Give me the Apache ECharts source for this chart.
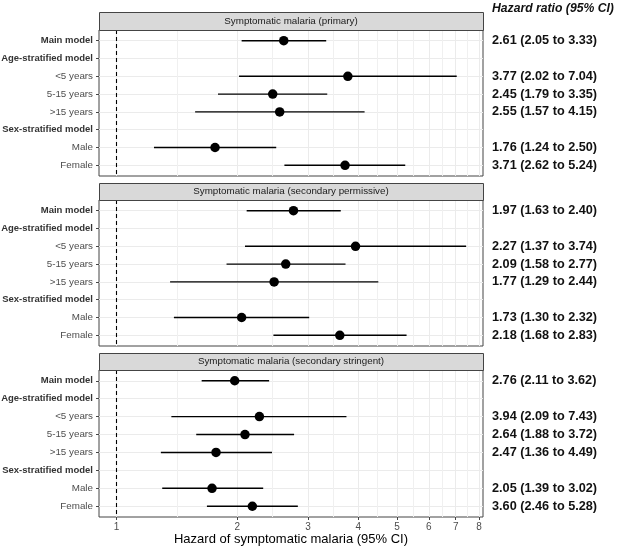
<!DOCTYPE html>
<html><head><meta charset="utf-8">
<script src="https://cdn.jsdelivr.net/npm/echarts@6/dist/echarts.min.js"></script>
<style>html,body{margin:0;padding:0;background:#fff}#c{width:617px;height:546px}</style>
</head><body><div id="c"></div>
<script>
const rowNames = ['Main model','Age-stratified model','<5 years','5-15 years','>15 years','Sex-stratified model','Male','Female'];
const boldRows = ['Main model','Age-stratified model','Sex-stratified model'];
const panelTitles = ['Symptomatic malaria (primary)','Symptomatic malaria (secondary permissive)','Symptomatic malaria (secondary stringent)'];

const p1Est = [2.61, null, 3.77, 2.45, 2.55, null, 1.76, 3.71];
const p1Lo  = [2.05, null, 2.02, 1.79, 1.57, null, 1.24, 2.62];
const p1Hi  = [3.33, null, 7.04, 3.35, 4.15, null, 2.50, 5.24];

const p2Est = [2.76, null, 3.94, 2.64, 2.47, null, 2.05, 3.60];
const p2Lo  = [2.11, null, 2.09, 1.88, 1.36, null, 1.39, 2.46];
const p2Hi  = [3.62, null, 7.43, 3.72, 4.49, null, 3.02, 5.28];

const p3Est = [1.97, null, 2.27, 2.09, 1.77, null, 1.73, 2.18];
const p3Lo  = [1.63, null, 1.37, 1.58, 1.29, null, 1.30, 1.68];
const p3Hi  = [2.40, null, 3.74, 2.77, 2.44, null, 2.32, 2.83];

const p1Labels = ['2.61 (2.05 to 3.33)', '', '3.77 (2.02 to 7.04)', '2.45 (1.79 to 3.35)', '2.55 (1.57 to 4.15)', '', '1.76 (1.24 to 2.50)', '3.71 (2.62 to 5.24)'];
const p2Labels = ['1.97 (1.63 to 2.40)', '', '2.27 (1.37 to 3.74)', '2.09 (1.58 to 2.77)', '1.77 (1.29 to 2.44)', '', '1.73 (1.30 to 2.32)', '2.18 (1.68 to 2.83)'];
const p3Labels = ['2.76 (2.11 to 3.62)', '', '3.94 (2.09 to 7.43)', '2.64 (1.88 to 3.72)', '2.47 (1.36 to 4.49)', '', '2.05 (1.39 to 3.02)', '3.60 (2.46 to 5.28)'];

const xTicks = [1, 2, 3, 4, 5, 6, 7, 8];
const refValue = 1;
const rightHeader = 'Hazard ratio (95% CI)';
const xTitle = 'Hazard of symptomatic malaria (95% CI)';

const panels = [
  {est: p1Est, lo: p1Lo, hi: p1Hi, labels: p1Labels},
  {est: p2Est, lo: p2Lo, hi: p2Hi, labels: p2Labels},
  {est: p3Est, lo: p3Lo, hi: p3Hi, labels: p3Labels}
];

const FONT = 'Liberation Sans, Arial, Helvetica, sans-serif';
const xMin = 0.9046, xMax = 8.185;
const minorTicks = [];
for (let i = 0; i < xTicks.length - 1; i++) minorTicks.push(Math.sqrt(xTicks[i] * xTicks[i + 1]));
const rowVals = rowNames.map((_, i) => i + 1);

const L = 99, W = 384;
const gridTops = [30, 200, 370];
const gridH = [146, 146, 147];
const stripTops = [12, 183, 353];

const grids = [], xAxes = [], yAxes = [], series = [], graphics = [];
panels.forEach((p, i) => {
  grids.push({left: L, top: gridTops[i], width: W, height: gridH[i], show: true, borderColor: '#444', borderWidth: 1, backgroundColor: 'transparent', containLabel: false, outerBoundsMode: 'none'});
  xAxes.push({
    gridIndex: i, type: 'log', logBase: 10, min: xMin, max: xMax, position: 'bottom', z: 1,
    axisLine: {show: false},
    axisTick: {show: i === 2, customValues: xTicks, length: 3, lineStyle: {color: '#444'}},
    axisLabel: {show: i === 2, customValues: xTicks, margin: 5, color: '#4D4D4D', fontSize: 10, fontFamily: FONT, formatter: v => String(Math.round(v))},
    splitLine: {show: true, lineStyle: {color: '#EBEBEB', width: 1}}
  });
  xAxes.push({
    gridIndex: i, type: 'log', logBase: 10, min: xMin, max: xMax, position: 'top', z: 1,
    axisLine: {show: false},
    axisTick: {show: false, customValues: minorTicks},
    axisLabel: {show: false, customValues: minorTicks},
    splitLine: {show: true, lineStyle: {color: '#F0F0F0', width: 1}}
  });
  yAxes.push({
    gridIndex: i, type: 'value', inverse: true, min: 0.4, max: 8.6, position: 'left',
    axisLine: {show: false},
    axisTick: {show: true, customValues: rowVals, length: 3, lineStyle: {color: '#444'}},
    axisLabel: {
      customValues: rowVals, margin: 6, fontFamily: FONT,
      formatter: v => {
        const n = rowNames[Math.round(v) - 1];
        return boldRows.includes(n) ? '{b|' + n + '}' : '{n|' + n + '}';
      },
      rich: {
        b: {fontWeight: 'bold', color: '#333', fontSize: 9.5, fontFamily: FONT},
        n: {color: '#4D4D4D', fontSize: 9.8, fontFamily: FONT}
      }
    },
    splitLine: {show: true, lineStyle: {color: '#EBEBEB', width: 1}}
  });
  yAxes.push({
    gridIndex: i, type: 'value', inverse: true, min: 0.4, max: 8.6, position: 'right',
    axisLine: {show: false}, axisTick: {show: false}, splitLine: {show: false},
    axisLabel: {
      customValues: rowVals, margin: 9, align: 'left', fontFamily: FONT,
      fontWeight: 'bold', fontSize: 12.7, color: '#111',
      formatter: v => p.labels[Math.round(v) - 1]
    }
  });

  const ciData = [], ptData = [];
  p.est.forEach((e, k) => {
    if (e == null) return;
    ciData.push([p.lo[k], p.hi[k], k + 1]);
    ptData.push([e, k + 1]);
  });
  series.push({
    type: 'custom', xAxisIndex: 2 * i, yAxisIndex: 2 * i, data: ciData, z: 3,
    encode: {x: [0, 1], y: 2},
    renderItem: (params, api) => {
      const a = api.coord([api.value(0), api.value(2)]);
      const b = api.coord([api.value(1), api.value(2)]);
      return {type: 'line', shape: {x1: a[0], y1: a[1], x2: b[0], y2: b[1]}, style: {stroke: '#000', lineWidth: 1.4}};
    }
  });
  series.push({
    type: 'scatter', xAxisIndex: 2 * i, yAxisIndex: 2 * i, data: ptData, z: 4,
    symbol: 'circle', symbolSize: 9.5, itemStyle: {color: '#000', opacity: 1},
    markLine: {
      silent: true, symbol: 'none', label: {show: false},
      lineStyle: {color: '#000', type: [4, 3], width: 1.1},
      data: [{xAxis: refValue}]
    }
  });

  graphics.push({
    type: 'rect', left: L, top: stripTops[i], z: 10,
    shape: {width: W, height: gridTops[i] - stripTops[i]},
    style: {fill: '#D9D9D9', stroke: '#444', lineWidth: 1}
  });
  graphics.push({
    type: 'text', x: L + W / 2, y: (stripTops[i] + gridTops[i]) / 2, z: 11,
    style: {text: panelTitles[i], fill: '#1A1A1A', fontSize: 9.8, fontFamily: FONT, textAlign: 'center', textVerticalAlign: 'middle'}
  });
});

graphics.push({
  type: 'text', x: 492, y: 9, z: 11,
  style: {text: rightHeader, fill: '#111', fontSize: 12.2, fontWeight: 'bold', fontStyle: 'italic', fontFamily: FONT, textAlign: 'left', textVerticalAlign: 'middle'}
});
graphics.push({
  type: 'text', x: L + W / 2, y: 539, z: 11,
  style: {text: xTitle, fill: '#000', fontSize: 13, fontFamily: FONT, textAlign: 'center', textVerticalAlign: 'middle'}
});

const chart = echarts.init(document.getElementById('c'), null, {renderer: 'canvas'});
chart.setOption({
  animation: false,
  backgroundColor: '#fff',
  grid: grids, xAxis: xAxes, yAxis: yAxes, series: series,
  graphic: graphics
});
</script></body></html>
